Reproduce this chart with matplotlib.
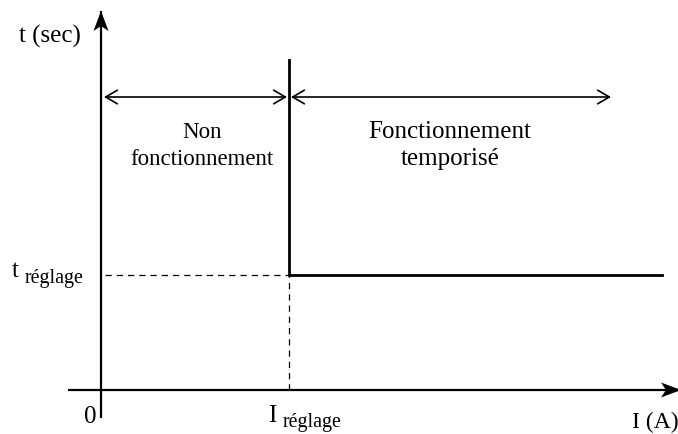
"""Caractéristique temps-courant d'un relais à temps constant (schéma)."""

import matplotlib.pyplot as plt
from matplotlib.patches import Polygon

# schematic values (origin at 0, units ~ pixels of the figure)
i_reglage = 188
t_reglage = 115
step_top = 330
step_end = 561
zone_arrow_y = 293
zone_left = [3, 186]
zone_right = [190, 510]
x_axis_span = [-33, 580]
y_axis_span = [-28, 379]

zone_labels = [("Non", "fonctionnement"), ("Fonctionnement", "temporisé")]
zone_centers = [101, 349]
zone_fontsizes = [16.5, 18]

plt.rcParams["font.family"] = ["Liberation Serif", "DejaVu Serif"]

fig = plt.figure(figsize=(6.78, 4.34), dpi=100)
ax = fig.add_axes([0, 0, 1, 1])
ax.set_xlim(-101, 577)
ax.set_ylim(-44, 390)
ax.axis("off")


def _axis_arrow(x0, y0, x1, y1, length=20, half_width=7.5, notch=5):
    ax.plot([x0, x1], [y0, y1], color="black", lw=1.6, solid_capstyle="butt")
    dx, dy = x1 - x0, y1 - y0
    norm = (dx ** 2 + dy ** 2) ** 0.5
    ux, uy = dx / norm, dy / norm
    px, py = -uy, ux
    bx, by = x1 - ux * length, y1 - uy * length
    head = [
        (x1, y1),
        (bx + px * half_width, by + py * half_width),
        (x1 - ux * (length - notch), y1 - uy * (length - notch)),
        (bx - px * half_width, by - py * half_width),
    ]
    ax.add_patch(Polygon(head, closed=True, color="black", lw=0))


# axes
_axis_arrow(0, y_axis_span[0], 0, y_axis_span[1])
_axis_arrow(x_axis_span[0], 0, x_axis_span[1], 0)

# dashed guides
ax.plot([4, i_reglage], [t_reglage, t_reglage], color="black", lw=0.9, ls=(0, (5, 4)))
ax.plot([i_reglage, i_reglage], [0, t_reglage], color="black", lw=0.9, ls=(0, (5, 4)))

# characteristic
ax.plot([i_reglage, i_reglage, step_end], [step_top, t_reglage, t_reglage],
        color="black", lw=2.0, solid_joinstyle="miter")

# zone arrows
for x_from, x_to in (zone_left, zone_right):
    ax.annotate("", xy=(x_to, zone_arrow_y), xytext=(x_from, zone_arrow_y),
                arrowprops=dict(arrowstyle="<->,head_length=0.6,head_width=0.35",
                                mutation_scale=14, lw=1.2, color="black",
                                shrinkA=0, shrinkB=0))

for (top, bottom), xc, fs in zip(zone_labels, zone_centers, zone_fontsizes):
    ax.text(xc, 252, top, ha="center", va="baseline", fontsize=fs)
    ax.text(xc, 225, bottom, ha="center", va="baseline", fontsize=fs)

# labels
ax.text(-51, 354, "t (sec)", ha="center", va="center", fontsize=18)
ax.text(-89, 113, "t", ha="left", va="baseline", fontsize=18)
ax.text(-76, 107, "réglage", ha="left", va="baseline", fontsize=14.3)
ax.text(-11, -33, "0", ha="center", va="baseline", fontsize=18)
ax.text(167, -32, "I", ha="left", va="baseline", fontsize=18)
ax.text(182, -37, "réglage", ha="left", va="baseline", fontsize=14.3)
ax.text(531, -38, "I (A)", ha="left", va="baseline", fontsize=17)

fig.savefig("out.png", dpi=100)
